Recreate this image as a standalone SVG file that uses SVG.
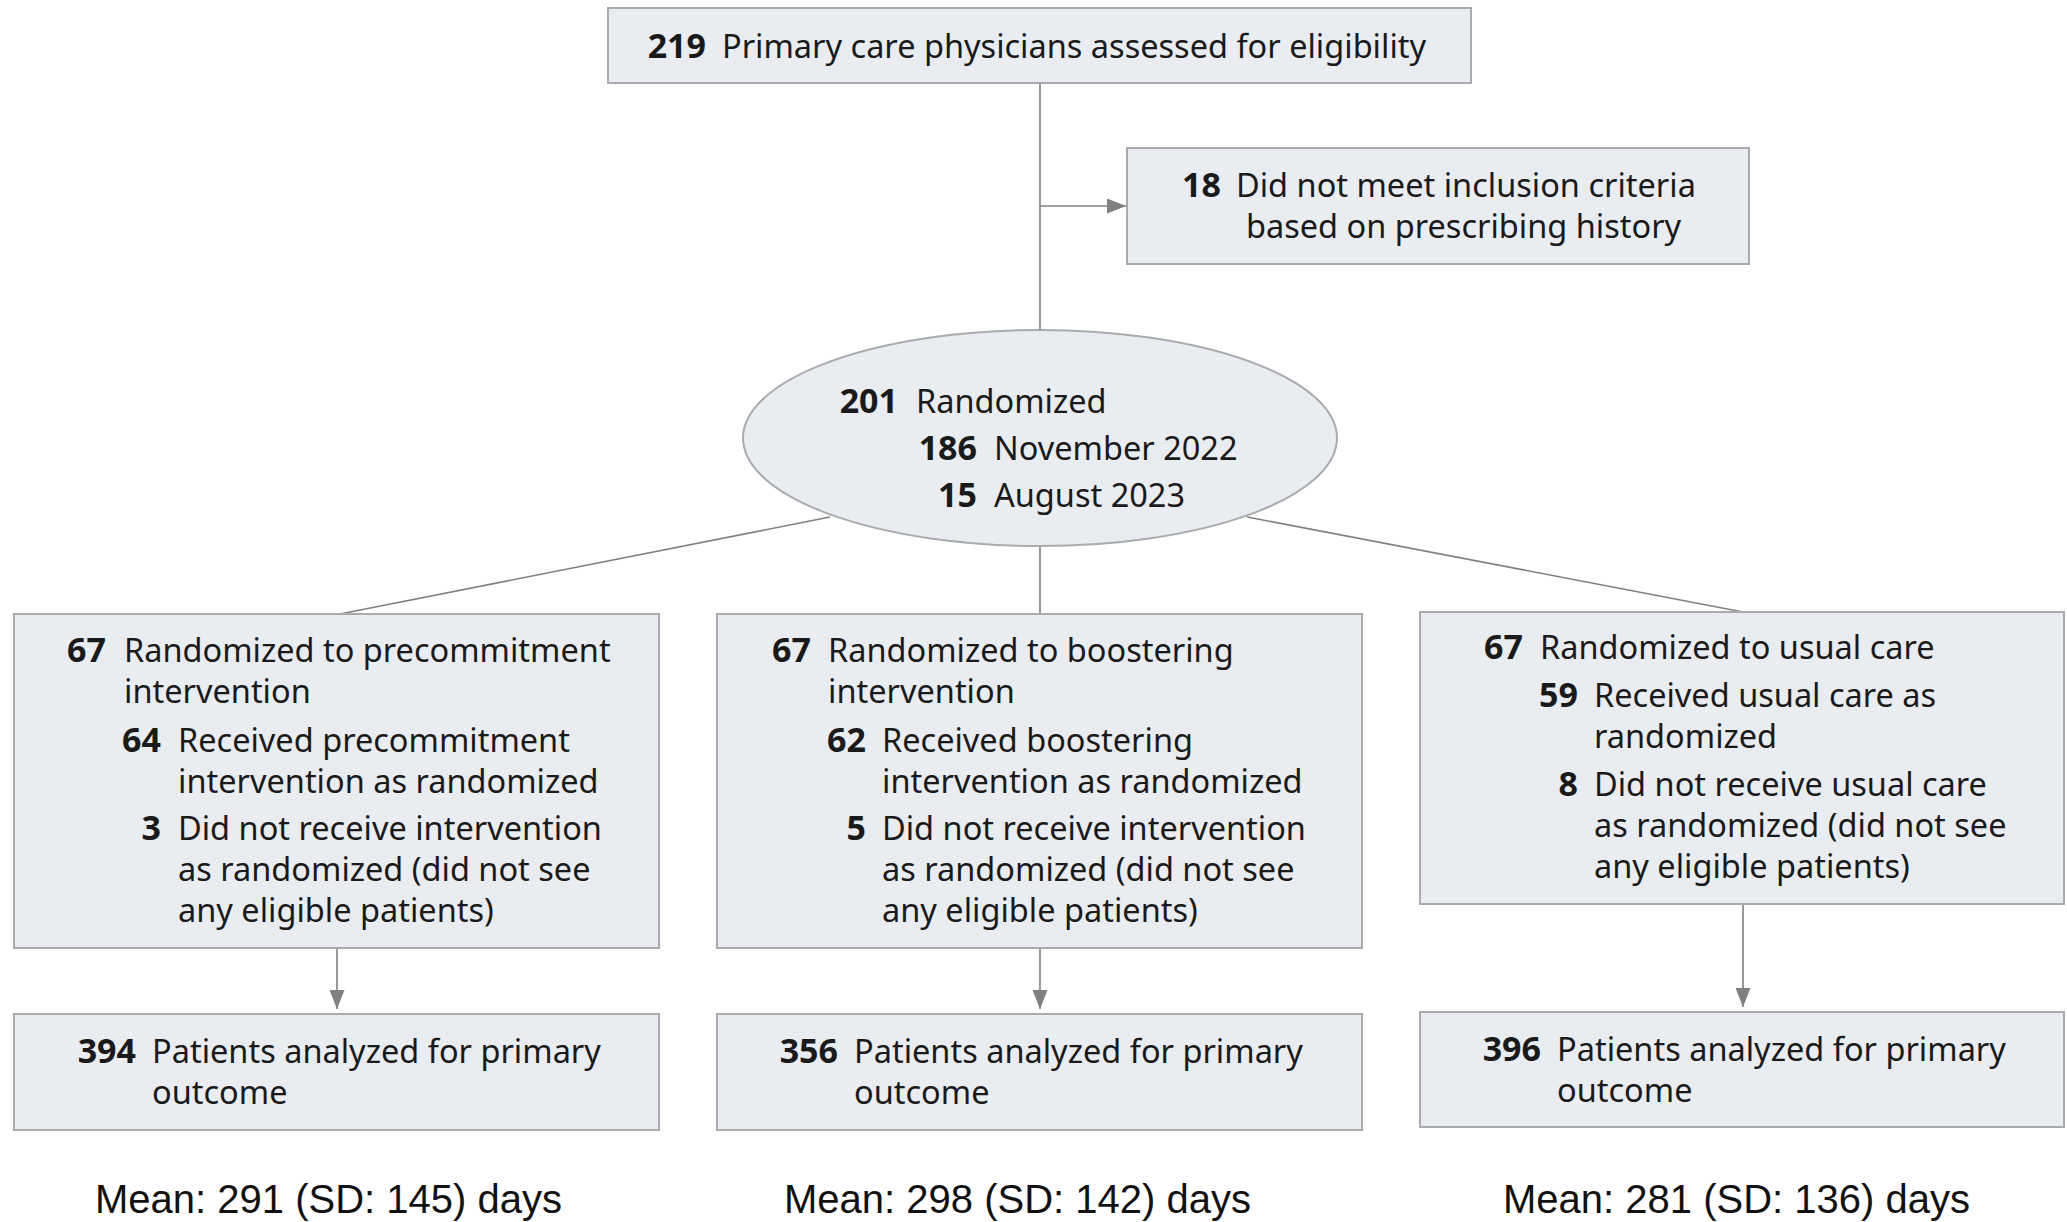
<svg xmlns="http://www.w3.org/2000/svg" width="2067" height="1222" viewBox="0 0 2067 1222">
  <style>
    .box { fill: #e9ecf1; stroke: #a9abae; stroke-width: 2; }
    .t { font-family: "Noto Sans", "Liberation Sans", sans-serif; font-size: 32.5px; fill: #1a1a1a; }
    .n { font-family: "Noto Sans", "Liberation Sans", sans-serif; font-size: 34px; font-weight: bold; fill: #1a1a1a; text-anchor: end; }
    .mean { font-family: "Liberation Sans", Arial, sans-serif; font-size: 40px; fill: #111; }
    .ln { stroke: #808080; stroke-width: 1.6; fill: none; }
  </style>
  <defs>
    <marker id="arr" viewBox="0 0 10 10" refX="10" refY="5" markerWidth="19" markerHeight="15" markerUnits="userSpaceOnUse" orient="auto" preserveAspectRatio="none">
      <path d="M0,0 L10,5 L0,10 z" fill="#808080"/>
    </marker>
  </defs>
  <rect width="2067" height="1222" fill="#ffffff"/>

  <!-- connectors -->
  <g id="connectors">
    <line class="ln" x1="1040" y1="83" x2="1040" y2="330"/>
    <line class="ln" x1="1040" y1="206" x2="1126" y2="206" marker-end="url(#arr)"/>
    <line class="ln" x1="830" y1="517" x2="340" y2="614"/>
    <line class="ln" x1="1040" y1="546" x2="1040" y2="614"/>
    <line class="ln" x1="1247" y1="517" x2="1743" y2="612"/>
    <line class="ln" x1="337" y1="948" x2="337" y2="1009" marker-end="url(#arr)"/>
    <line class="ln" x1="1040" y1="948" x2="1040" y2="1009" marker-end="url(#arr)"/>
    <line class="ln" x1="1743" y1="904" x2="1743" y2="1007" marker-end="url(#arr)"/>
  </g>

  <!-- screening -->
  <g id="assessed">
    <rect class="box" x="608" y="8" width="863" height="75"/>
    <text class="n" x="706" y="58">219</text>
    <text class="t" x="722" y="58">Primary care physicians assessed for eligibility</text>
  </g>

  <g id="excluded">
    <rect class="box" x="1127" y="148" width="622" height="116"/>
    <text class="n" x="1221" y="197">18</text>
    <text class="t" x="1236" y="197">Did not meet inclusion criteria</text>
    <text class="t" x="1246" y="238">based on prescribing history</text>
  </g>

  <g id="randomized">
    <ellipse class="box" cx="1040" cy="438" rx="297" ry="108"/>
    <text class="n" x="898" y="413">201</text>
    <text class="t" x="916" y="413">Randomized</text>
    <text class="n" x="977" y="460">186</text>
    <text class="t" x="994" y="460">November 2022</text>
    <text class="n" x="977" y="507">15</text>
    <text class="t" x="994" y="507">August 2023</text>
  </g>

  <!-- allocation arms -->
  <g id="arm-precommitment">
    <rect class="box" x="14" y="614" width="645" height="334"/>
    <text class="n" x="106" y="662">67</text>
    <text class="t" x="124" y="662">Randomized to precommitment</text>
    <text class="t" x="124" y="703">intervention</text>
    <text class="n" x="161" y="752">64</text>
    <text class="t" x="178" y="752">Received precommitment</text>
    <text class="t" x="178" y="793">intervention as randomized</text>
    <text class="n" x="161" y="840">3</text>
    <text class="t" x="178" y="840">Did not receive intervention</text>
    <text class="t" x="178" y="881">as randomized (did not see</text>
    <text class="t" x="178" y="922">any eligible patients)</text>
  </g>

  <g id="arm-boostering">
    <rect class="box" x="717" y="614" width="645" height="334"/>
    <text class="n" x="811" y="662">67</text>
    <text class="t" x="828" y="662">Randomized to boostering</text>
    <text class="t" x="828" y="703">intervention</text>
    <text class="n" x="866" y="752">62</text>
    <text class="t" x="882" y="752">Received boostering</text>
    <text class="t" x="882" y="793">intervention as randomized</text>
    <text class="n" x="866" y="840">5</text>
    <text class="t" x="882" y="840">Did not receive intervention</text>
    <text class="t" x="882" y="881">as randomized (did not see</text>
    <text class="t" x="882" y="922">any eligible patients)</text>
  </g>

  <g id="arm-usual-care">
    <rect class="box" x="1420" y="612" width="644" height="292"/>
    <text class="n" x="1523" y="659">67</text>
    <text class="t" x="1540" y="659">Randomized to usual care</text>
    <text class="n" x="1578" y="707">59</text>
    <text class="t" x="1594" y="707">Received usual care as</text>
    <text class="t" x="1594" y="748">randomized</text>
    <text class="n" x="1578" y="796">8</text>
    <text class="t" x="1594" y="796">Did not receive usual care</text>
    <text class="t" x="1594" y="837">as randomized (did not see</text>
    <text class="t" x="1594" y="878">any eligible patients)</text>
  </g>

  <!-- analysis -->
  <g id="analyzed-precommitment">
    <rect class="box" x="14" y="1014" width="645" height="116"/>
    <text class="n" x="136" y="1063">394</text>
    <text class="t" x="152" y="1063">Patients analyzed for primary</text>
    <text class="t" x="152" y="1104">outcome</text>
  </g>

  <g id="analyzed-boostering">
    <rect class="box" x="717" y="1014" width="645" height="116"/>
    <text class="n" x="838" y="1063">356</text>
    <text class="t" x="854" y="1063">Patients analyzed for primary</text>
    <text class="t" x="854" y="1104">outcome</text>
  </g>

  <g id="analyzed-usual-care">
    <rect class="box" x="1420" y="1012" width="644" height="115"/>
    <text class="n" x="1541" y="1061">396</text>
    <text class="t" x="1557" y="1061">Patients analyzed for primary</text>
    <text class="t" x="1557" y="1102">outcome</text>
  </g>

  <!-- follow-up duration -->
  <g id="follow-up">
    <text class="mean" x="95" y="1213">Mean: 291 (SD: 145) days</text>
    <text class="mean" x="784" y="1213">Mean: 298 (SD: 142) days</text>
    <text class="mean" x="1503" y="1213">Mean: 281 (SD: 136) days</text>
  </g>
</svg>
